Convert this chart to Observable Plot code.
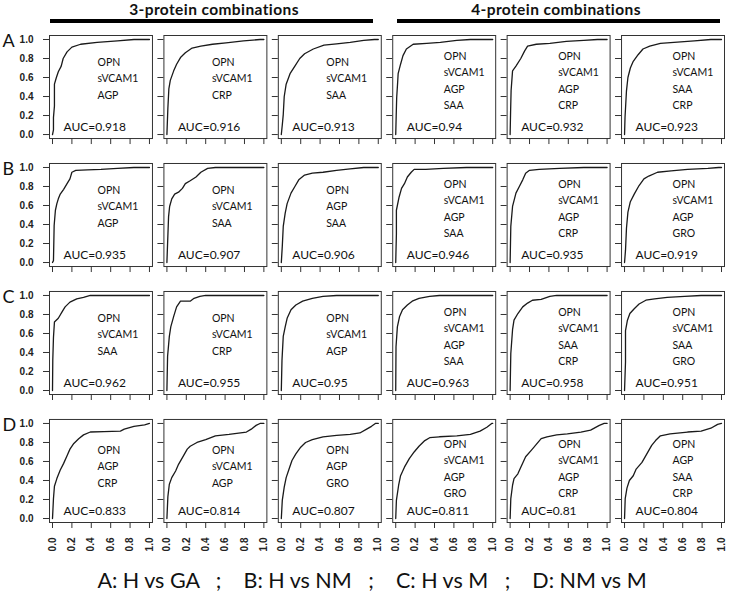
<!DOCTYPE html>
<html><head><meta charset="utf-8">
<script src="https://cdn.jsdelivr.net/npm/d3@7"></script>
<script src="https://cdn.jsdelivr.net/npm/@observablehq/plot@0.6"></script>
<style>
body{margin:0;background:#fff;}
#wrap{position:relative;width:729px;height:593px;font-family:Lato,sans-serif;color:#111;overflow:hidden}
#chart{position:absolute;top:0;left:0}
.hdr{position:absolute;top:0px;font-weight:bold;font-size:15.5px;letter-spacing:0.4px;line-height:normal;transform:translateX(-50%);white-space:nowrap}
.rule{position:absolute;top:19px;height:4px;background:#000}
#cap{position:absolute;top:570px;left:0;width:744px;text-align:center;font-size:21.5px;line-height:1;white-space:pre}
.roc g[aria-label="y-axis tick label"] text,.roc g[aria-label="x-axis tick label"] text{font-family:"Liberation Sans",Arial,sans-serif;font-weight:bold}
</style></head><body>
<div id="wrap">
  <div id="chart"></div>
  <div class="hdr" style="left:214px">3-protein combinations</div>
  <div class="rule" style="left:50px;width:323px"></div>
  <div class="hdr" style="left:556px">4-protein combinations</div>
  <div class="rule" style="left:397px;width:323px"></div>
  <div id="cap">A: H vs GA   ;    B: H vs NM   ;    C: H vs M   ;    D: NM vs M</div>
</div>
<script>
const rows = ["A", "B", "C", "D"];
const ticks = [0, 0.2, 0.4, 0.6, 0.8, 1.0];

// AUC values per row
const aucA = [0.918, 0.916, 0.913, 0.94, 0.932, 0.923];
const aucB = [0.935, 0.907, 0.906, 0.946, 0.935, 0.919];
const aucC = [0.962, 0.955, 0.95, 0.963, 0.958, 0.951];
const aucD = [0.833, 0.814, 0.807, 0.811, 0.81, 0.804];

// protein combinations per row
const combA = [["OPN","sVCAM1","AGP"],["OPN","sVCAM1","CRP"],["OPN","sVCAM1","SAA"],["OPN","sVCAM1","AGP","SAA"],["OPN","sVCAM1","AGP","CRP"],["OPN","sVCAM1","SAA","CRP"]];
const combB = [["OPN","sVCAM1","AGP"],["OPN","sVCAM1","SAA"],["OPN","AGP","SAA"],["OPN","sVCAM1","AGP","SAA"],["OPN","sVCAM1","AGP","CRP"],["OPN","sVCAM1","AGP","GRO"]];
const combC = [["OPN","sVCAM1","SAA"],["OPN","sVCAM1","CRP"],["OPN","sVCAM1","AGP"],["OPN","sVCAM1","AGP","SAA"],["OPN","sVCAM1","SAA","CRP"],["OPN","sVCAM1","SAA","GRO"]];
const combD = [["OPN","AGP","CRP"],["OPN","sVCAM1","AGP"],["OPN","AGP","GRO"],["OPN","sVCAM1","AGP","GRO"],["OPN","sVCAM1","AGP","CRP"],["OPN","AGP","SAA","CRP"]];

// ROC curves: [false positive rate, true positive rate]
const rocA1 = [[0,0],[0.01,0.05],[0.01,0.18],[0.02,0.3],[0.02,0.53],[0.04,0.6],[0.06,0.66],[0.09,0.72],[0.11,0.8],[0.15,0.87],[0.2,0.92],[0.29,0.95],[0.46,0.97],[0.67,0.985],[0.84,1],[1,1]];
const rocA2 = [[0,0],[0.01,0.28],[0.02,0.48],[0.035,0.57],[0.07,0.67],[0.1,0.74],[0.14,0.81],[0.19,0.86],[0.26,0.91],[0.35,0.93],[0.47,0.95],[0.61,0.965],[0.79,0.985],[0.96,1],[1,1]];
const rocA3 = [[0,0],[0.01,0.1],[0.02,0.21],[0.03,0.4],[0.05,0.53],[0.09,0.64],[0.14,0.72],[0.19,0.8],[0.24,0.85],[0.33,0.9],[0.44,0.94],[0.57,0.955],[0.71,0.97],[0.85,0.99],[0.96,1],[1,1]];
const rocA4 = [[0,0],[0.005,0.2],[0.01,0.39],[0.02,0.55],[0.025,0.64],[0.05,0.74],[0.075,0.83],[0.11,0.9],[0.18,0.95],[0.32,0.96],[0.46,0.97],[0.63,0.99],[0.77,1],[1,1]];
const rocA5 = [[0,0],[0.005,0.25],[0.01,0.46],[0.025,0.67],[0.06,0.72],[0.11,0.8],[0.15,0.88],[0.18,0.93],[0.27,0.95],[0.41,0.96],[0.58,0.98],[0.76,0.99],[0.9,1],[1,1]];
const rocA6 = [[0,0],[0.005,0.18],[0.02,0.46],[0.035,0.6],[0.06,0.7],[0.09,0.77],[0.14,0.84],[0.19,0.9],[0.26,0.93],[0.37,0.96],[0.51,0.97],[0.72,0.985],[0.89,1],[1,1]];

const rocB1 = [[0,0],[0.01,0.02],[0.017,0.39],[0.03,0.55],[0.045,0.62],[0.06,0.67],[0.08,0.72],[0.115,0.77],[0.15,0.83],[0.18,0.88],[0.2,0.95],[0.24,0.97],[0.36,0.975],[0.5,0.98],[0.67,0.99],[0.84,1],[1,1]];
const rocB2 = [[0,0],[0.007,0.2],[0.017,0.48],[0.028,0.59],[0.05,0.67],[0.08,0.72],[0.12,0.74],[0.16,0.78],[0.19,0.83],[0.24,0.86],[0.3,0.9],[0.35,0.95],[0.42,0.99],[0.5,1],[1,1]];
const rocB3 = [[0,0],[0.01,0.17],[0.02,0.38],[0.04,0.52],[0.06,0.62],[0.1,0.73],[0.14,0.8],[0.18,0.87],[0.24,0.92],[0.32,0.94],[0.43,0.95],[0.57,0.97],[0.71,0.985],[0.85,1],[1,1]];
const rocB4 = [[0,0],[0.007,0.3],[0.007,0.55],[0.035,0.69],[0.06,0.78],[0.09,0.83],[0.12,0.9],[0.16,0.95],[0.19,0.98],[0.31,0.98],[0.49,0.99],[0.73,1],[1,1]];
const rocB5 = [[0,0],[0.007,0.38],[0.025,0.59],[0.06,0.73],[0.095,0.8],[0.13,0.87],[0.16,0.94],[0.2,0.97],[0.3,0.98],[0.51,0.99],[0.76,1],[1,1]];
const rocB6 = [[0,0],[0.01,0.13],[0.02,0.36],[0.035,0.53],[0.06,0.64],[0.1,0.72],[0.15,0.81],[0.2,0.88],[0.25,0.91],[0.34,0.95],[0.48,0.965],[0.65,0.98],[0.86,0.99],[0.97,1],[1,1]];

const rocC1 = [[0,0],[0.003,0.32],[0.01,0.56],[0.02,0.72],[0.06,0.76],[0.1,0.83],[0.13,0.88],[0.18,0.93],[0.25,0.965],[0.32,0.98],[0.39,1],[1,1]];
const rocC2 = [[0,0],[0.007,0.36],[0.025,0.57],[0.04,0.67],[0.07,0.78],[0.1,0.88],[0.14,0.94],[0.24,0.94],[0.28,0.97],[0.34,0.99],[0.4,1],[1,1]];
const rocC3 = [[0,0],[0.007,0.32],[0.02,0.57],[0.04,0.67],[0.06,0.76],[0.1,0.85],[0.15,0.9],[0.22,0.94],[0.32,0.97],[0.43,0.99],[0.57,1],[1,1]];
const rocC4 = [[0,0],[0.003,0.46],[0.017,0.67],[0.04,0.78],[0.07,0.85],[0.12,0.9],[0.17,0.94],[0.24,0.97],[0.35,0.99],[0.45,1],[1,1]];
const rocC5 = [[0,0],[0.007,0.39],[0.025,0.64],[0.04,0.74],[0.08,0.81],[0.13,0.88],[0.18,0.92],[0.23,0.95],[0.32,0.96],[0.41,0.99],[0.48,1],[1,1]];
const rocC6 = [[0,0],[0.01,0.3],[0.01,0.63],[0.03,0.74],[0.055,0.81],[0.1,0.86],[0.15,0.91],[0.22,0.95],[0.31,0.965],[0.44,0.98],[0.62,0.99],[0.79,1],[1,1]];

const rocD1 = [[0,0],[0.01,0.21],[0.02,0.34],[0.045,0.42],[0.08,0.51],[0.115,0.58],[0.15,0.66],[0.18,0.73],[0.22,0.79],[0.27,0.84],[0.32,0.88],[0.39,0.91],[0.53,0.915],[0.7,0.92],[0.74,0.94],[0.84,0.97],[0.95,0.985],[1,1]];
const rocD2 = [[0,0],[0.01,0.23],[0.025,0.36],[0.05,0.43],[0.09,0.5],[0.12,0.57],[0.16,0.64],[0.21,0.73],[0.24,0.76],[0.31,0.8],[0.4,0.83],[0.5,0.87],[0.64,0.885],[0.82,0.91],[0.87,0.94],[0.92,0.98],[0.96,1],[1,1]];
const rocD3 = [[0,0],[0.01,0.19],[0.03,0.33],[0.05,0.43],[0.08,0.52],[0.11,0.61],[0.15,0.68],[0.2,0.75],[0.25,0.8],[0.32,0.83],[0.43,0.86],[0.57,0.875],[0.71,0.885],[0.81,0.9],[0.88,0.94],[0.93,0.97],[0.97,1],[1,1]];
const rocD4 = [[0,0],[0.007,0.19],[0.03,0.35],[0.05,0.45],[0.09,0.54],[0.14,0.63],[0.19,0.7],[0.24,0.76],[0.3,0.82],[0.35,0.85],[0.45,0.86],[0.63,0.87],[0.77,0.885],[0.87,0.92],[0.94,0.96],[0.99,1],[1,1]];
const rocD5 = [[0,0],[0.007,0.21],[0.025,0.35],[0.04,0.42],[0.08,0.47],[0.11,0.54],[0.16,0.65],[0.22,0.72],[0.27,0.78],[0.32,0.84],[0.38,0.86],[0.48,0.88],[0.59,0.89],[0.73,0.91],[0.83,0.93],[0.92,0.98],[0.97,1],[1,1]];
const rocD6 = [[0,0],[0.007,0.21],[0.025,0.32],[0.05,0.4],[0.09,0.45],[0.12,0.52],[0.18,0.59],[0.23,0.68],[0.28,0.77],[0.32,0.82],[0.37,0.87],[0.47,0.89],[0.65,0.91],[0.79,0.92],[0.89,0.95],[0.96,0.99],[1,1]];

const rocByRow = [
  [rocA1, rocA2, rocA3, rocA4, rocA5, rocA6],
  [rocB1, rocB2, rocB3, rocB4, rocB5, rocB6],
  [rocC1, rocC2, rocC3, rocC4, rocC5, rocC6],
  [rocD1, rocD2, rocD3, rocD4, rocD5, rocD6]
];
const aucByRow = [aucA, aucB, aucC, aucD];
const combByRow = [combA, combB, combC, combD];

const curves = [], labels = [];
rows.forEach((r, i) => {
  rocByRow[i].forEach((pts, c) => {
    pts.forEach(([fpr, tpr]) => curves.push({row: r, col: c, fpr, tpr}));
    labels.push({row: r, col: c, n: combByRow[i][c].length,
                 text: combByRow[i][c].join("\n"), auc: "AUC=" + aucByRow[i][c]});
  });
});

const labelStyle = {fx: "col", fy: "row", text: "text", frameAnchor: "top-left", textAnchor: "start",
                    lineAnchor: "top", lineHeight: 1.55, fontSize: 10.5, fill: "#111"};

const chart = Plot.plot({
  className: "roc",
  width: 729, height: 555,
  marginLeft: 49, marginRight: 5, marginTop: 35, marginBottom: 33,
  style: {fontFamily: "Lato, sans-serif", color: "#222", background: "transparent"},
  fx: {domain: [0,1,2,3,4,5], paddingInner: 0.1, paddingOuter: 0, round: false, axis: null},
  fy: {domain: rows, paddingInner: 0.195, paddingOuter: 0, round: false, axis: null},
  x: {domain: [0, 1], inset: 3, label: null},
  y: {domain: [0, 1], insetTop: 4, insetBottom: 4, label: null},
  marks: [
    Plot.frame({stroke: "#333", strokeWidth: 1}),
    Plot.axisY({ticks, facetAnchor: null, tickSize: 6, tickFormat: () => "", label: null, stroke: "#333"}),
    Plot.axisX({ticks, facetAnchor: null, tickSize: 6, tickFormat: () => "", label: null, stroke: "#333"}),
    Plot.axisY({ticks, facetAnchor: "left", tickSize: 0, tickPadding: 16, label: null, tickFormat: d => d.toFixed(1), fontSize: 10, fill: "#222"}),
    Plot.axisX({ticks, facetAnchor: "bottom", tickSize: 0, tickPadding: 15, label: null, tickRotate: -90, tickFormat: d => d.toFixed(1), fontSize: 10, fill: "#222"}),
    Plot.line(curves, {x: "fpr", y: "tpr", fx: "col", fy: "row", stroke: "#1a1a1a", strokeWidth: 1.3}),
    Plot.text(labels.filter(d => d.n === 3 && d.row !== "D"), {...labelStyle, dx: 48, dy: 19}),
    Plot.text(labels.filter(d => d.n === 3 && d.row === "D"), {...labelStyle, dx: 48, dy: 23}),
    Plot.text(labels.filter(d => d.n === 4 && d.row !== "D"), {...labelStyle, dx: 51, dy: 13}),
    Plot.text(labels.filter(d => d.n === 4 && d.row === "D"), {...labelStyle, dx: 51, dy: 17}),
    Plot.text(labels, {fx: "col", fy: "row", text: "auc", frameAnchor: "bottom-left", dx: 14, dy: -11, textAnchor: "start", lineAnchor: "middle", fontSize: 12, fill: "#111"}),
    Plot.text(rows, {fx: () => 0, fy: d => d, text: d => d, frameAnchor: "top-left", dx: -47, dy: 6, textAnchor: "start", lineAnchor: "middle", fontSize: 18, fill: "#111"})
  ]
});
document.getElementById("chart").appendChild(chart);
</script>
</body></html>
